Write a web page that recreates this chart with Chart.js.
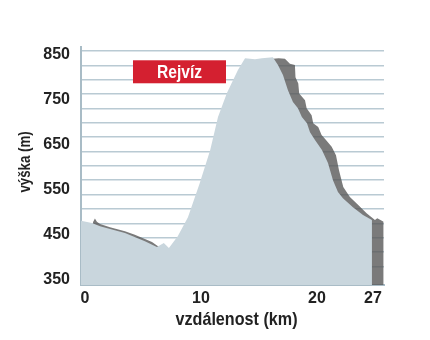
<!DOCTYPE html>
<html>
<head>
<meta charset="utf-8">
<script src="https://cdn.jsdelivr.net/npm/chart.js@4.4.1/dist/chart.umd.min.js"></script>
<style>
  body { margin: 0; background: #fff; }
  #wrap { width: 430px; height: 340px; }
</style>
</head>
<body>
<div id="wrap"><canvas id="profil" width="430" height="340"></canvas></div>
<script>
// profil trasy - svetla plocha (km / m n. m.)
var lightKm = [-0.34, 0.6, 1.3, 3.45, 5.17, 6.2, 6.8, 7.24, 8.0, 8.88, 9.9, 10.8, 11.47, 12.24, 13.19, 13.8, 14.66, 15.26, 16.2,
  16.64, 17.07, 17.5, 17.93, 18.36, 18.7, 19.14, 19.4, 19.83, 20.43, 20.95, 21.38, 21.81, 22.24, 23.1, 23.97, 24.74];
var lightElev = [481, 476, 469, 454, 436, 423, 432, 421, 447, 489, 565, 638, 711, 764, 815, 841, 839, 841, 843,
  826, 804, 770, 744, 730, 711, 697, 677, 660, 638, 609, 571, 545, 531, 511, 494, 483];

// tmava plocha (stin / druha trasa)
var darkKm = [0.69, 0.86, 1.03, 1.3, 2.16, 3.45, 4.3, 5.17, 5.78, 6.3, 6.8, 7.24, 8.0, 8.88, 9.9, 10.8, 11.47, 12.24, 13.19,
  13.8, 14.66, 15.26, 16.2, 16.7, 17.24, 17.67, 18.1, 18.15, 18.39, 18.47, 18.97, 19.11, 19.54, 19.68, 20.11, 20.4,
  20.78, 21.27, 21.64, 21.9, 22.27, 22.84, 23.56, 24.28, 25.0, 25.2, 25.75];
var darkElev = [478, 486, 479, 474, 467, 458, 450, 441, 434, 425, 416, 410, 430, 472, 548, 620, 694, 748, 800,
  826, 830, 834, 840, 841, 840, 829, 826, 799, 785, 763, 748, 730, 715, 697, 689, 671,
  660, 645, 626, 593, 556, 534, 516, 498, 483, 487, 479];

var yTicks = [350, 450, 550, 650, 750, 850];
var xTickValues = [0, 10, 20, 24.83];
var xTickLabels = ['0', '10', '20', '27'];
var xTitle = 'vzdálenost (km)';
var yTitle = 'výška (m)';
var placeName = 'Rejvíz';
var placeKm = 8.15, placeElev = 811;

function toPoints(xs, ys) {
  var pts = [];
  for (var i = 0; i < xs.length; i++) pts.push({x: xs[i], y: ys[i]});
  return pts;
}

var labelFont = {family: '"Liberation Sans", Arial, sans-serif', weight: 'bold', size: 16};

// uzky tucny text (zuzeny pres scale)
function narrowText(c, text, x, y, size, squeeze, rot) {
  c.save();
  c.translate(x, y);
  if (rot) c.rotate(rot);
  c.scale(squeeze, 1);
  c.font = 'bold ' + size + 'px "Liberation Sans", Arial, sans-serif';
  c.textAlign = 'center';
  c.textBaseline = 'middle';
  c.fillText(text, 0, 0);
  c.restore();
}

var extras = {
  id: 'extras',
  afterDatasetsDraw: function(chart) {
    var c = chart.ctx;
    var a = chart.chartArea;
    var px = chart.scales.x.getPixelForValue(placeKm);
    var py = chart.scales.y.getPixelForValue(placeElev);
    c.save();
    // osa y kousek nad mrizku
    c.fillStyle = '#a9bcc6';
    c.fillRect(a.left - 1, a.top - 5, 2, 6);
    c.fillStyle = '#d42030';
    c.fillRect(px - 46.5, py - 11.5, 93, 23);
    c.fillStyle = '#fff';
    narrowText(c, placeName, px, py + 1, 19, 0.82, 0);
    c.fillStyle = '#222';
    narrowText(c, xTitle, (a.left + a.right) / 2 + 4, a.bottom + 35, 19, 0.85, 0);
    narrowText(c, yTitle, 25, (a.top + a.bottom) / 2 - 6, 17, 0.78, -Math.PI / 2);
    c.restore();
  }
};

var ctx = document.getElementById('profil');
var chart = new Chart(ctx, {
  type: 'line',
  data: {
    datasets: [{
      data: toPoints(lightKm, lightElev),
      backgroundColor: '#c9d6dd',
      borderWidth: 0,
      pointRadius: 0,
      fill: 'start',
      tension: 0
    }, {
      data: toPoints(darkKm, darkElev),
      backgroundColor: 'rgba(85,85,85,0.78)',
      borderWidth: 0,
      pointRadius: 0,
      fill: 'start',
      tension: 0
    }]
  },
  options: {
    responsive: false,
    animation: false,
    layout: {padding: {top: 51, right: 46, left: 0, bottom: 0}},
    plugins: {legend: {display: false}, tooltip: {enabled: false}},
    scales: {
      x: {
        type: 'linear',
        min: -0.34,
        max: 25.78,
        afterBuildTicks: function(s) { s.ticks = xTickValues.map(function(v) { return {value: v}; }); },
        afterFit: function(s) { s.height = 55; },
        grid: {display: false, drawTicks: false},
        border: {display: true, color: '#a9bcc6', width: 2},
        ticks: {
          autoSkip: false, maxRotation: 0, padding: 4,
          color: '#222', font: labelFont,
          callback: function(v, i) { return xTickLabels[i]; }
        }
      },
      y: {
        min: 339,
        max: 857,
        afterBuildTicks: function(s) { s.ticks = yTicks.map(function(v) { return {value: v}; }); },
        afterFit: function(s) { s.width = 81; },
        grid: {display: false, drawTicks: false},
        border: {display: true, color: '#a9bcc6', width: 2},
        ticks: {padding: 11, color: '#222', font: labelFont}
      },
      g: {
        position: 'left',
        reverse: true,
        min: 0,
        max: 16.3,
        afterFit: function(s) { s.width = 0; },
        ticks: {display: false, stepSize: 1},
        border: {display: false},
        grid: {color: '#b9cad3', lineWidth: 1.5, drawTicks: false}
      }
    }
  },
  plugins: [extras]
});
</script>
</body>
</html>
